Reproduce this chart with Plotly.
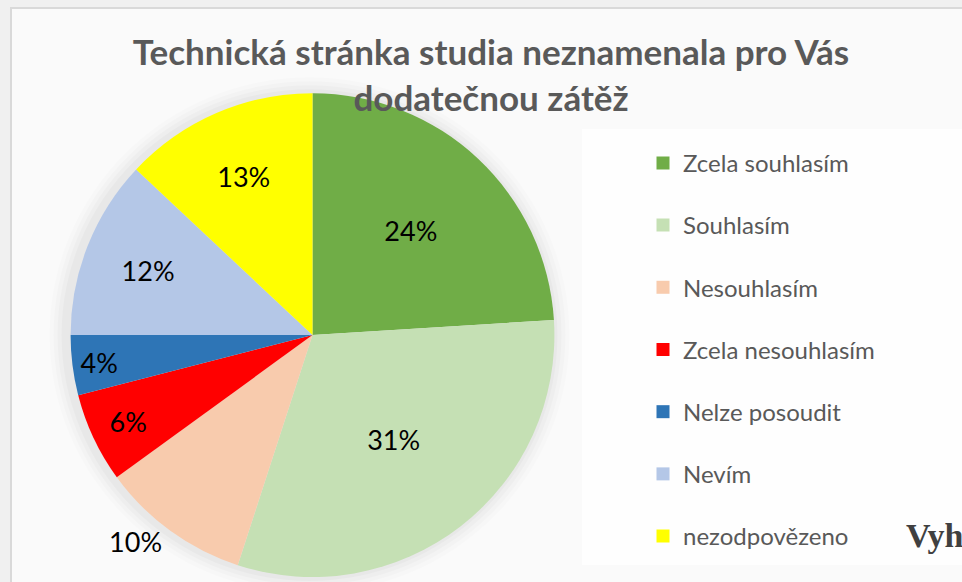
import plotly.graph_objects as go

categories = ["Zcela souhlasím", "Souhlasím", "Nesouhlasím", "Zcela nesouhlasím",
              "Nelze posoudit", "Nevím", "nezodpovězeno"]
values = [24, 31, 10, 6, 4, 12, 13]
colors = ["#70ad47", "#c5e0b4", "#f8cbad", "#ff0000", "#2e75b6", "#b4c7e7", "#ffff00"]
text_positions = ["inside", "inside", "outside", "inside", "inside", "inside", "inside"]

W, H = 962, 582
title_text = "Technická stránka studia neznamenala pro Vás<br>dodatečnou zátěž"

# pie geometry in pixels
cx, cy_bottom, half_h = 312.5, 244.0, 244.0

fig = go.Figure()

fig.add_trace(go.Pie(
    labels=categories,
    values=values,
    marker=dict(colors=colors, line=dict(width=0)),
    sort=False,
    direction="clockwise",
    rotation=0,
    textinfo="percent",
    texttemplate="%{percent:.0%}",
    textposition=text_positions,
    insidetextorientation="horizontal",
    textfont=dict(family="Lato, Noto Sans, sans-serif", size=27, color="#000000"),
    domain=dict(x=[(cx - 250) / W, (cx + 250) / W], y=[0, (2 * half_h) / H]),
    showlegend=False,
    hoverinfo="label+percent",
))

for i, (name, col) in enumerate(zip(categories, colors)):
    fig.add_trace(go.Scatter(
        x=[None], y=[None], mode="markers", name=name,
        marker=dict(symbol="square", size=13, color=col),
        legendgroup=f"g{i}", showlegend=True,
    ))

r = half_h
shapes = []
# outer frame
shapes.append(dict(type="rect", xref="paper", yref="paper",
                   x0=11 / W, x1=1.02, y0=-0.02, y1=(H - 8) / H,
                   fillcolor="#fafafa", line=dict(color="#d9d9d9", width=2), layer="below"))
# legend box
shapes.append(dict(type="rect", xref="paper", yref="paper",
                   x0=582 / W, x1=1.02, y0=(H - 570) / H, y1=(H - 130) / H,
                   fillcolor="#fefefe", line=dict(width=0), layer="below"))
# soft shadow around pie
for k, a in [(16, 0.012), (12, 0.016), (8, 0.02), (4, 0.025)]:
    rr = r + k
    shapes.append(dict(type="circle", xref="paper", yref="paper",
                       x0=(cx - rr - 3) / W, x1=(cx + rr - 3) / W,
                       y0=(cy_bottom - rr) / H, y1=(cy_bottom + rr) / H,
                       fillcolor=f"rgba(0,0,0,{a})", line=dict(width=0), layer="below"))

fig.update_layout(
    width=W, height=H,
    margin=dict(l=0, r=0, t=0, b=0),
    paper_bgcolor="#f0f0f0",
    plot_bgcolor="rgba(0,0,0,0)",
    xaxis=dict(visible=False),
    yaxis=dict(visible=False),
    shapes=shapes,
    title=dict(text=title_text, x=491 / W, xanchor="center", y=1 - 65 / H, yanchor="top",
               font=dict(family="Lato, Noto Sans, sans-serif", size=35, color="#595959", weight="bold")),
    legend=dict(x=643 / W, xanchor="left", y=1 - 142 / H, yanchor="top",
                bgcolor="rgba(0,0,0,0)", itemwidth=30, tracegroupgap=28,
                font=dict(family="Lato, Noto Sans, sans-serif", size=24, color="#595959")),
    annotations=[dict(text="<b>Vyh</b>", xref="paper", yref="paper", x=904 / W, y=(H - 540) / H,
                      xanchor="left", yanchor="middle", showarrow=False,
                      font=dict(family="Liberation Serif, serif", size=34, color="#404040"))],
)

fig.write_html("out.html", config={"displayModeBar": False},
               post_script="document.body.style.margin='0';document.body.style.overflow='hidden';")
